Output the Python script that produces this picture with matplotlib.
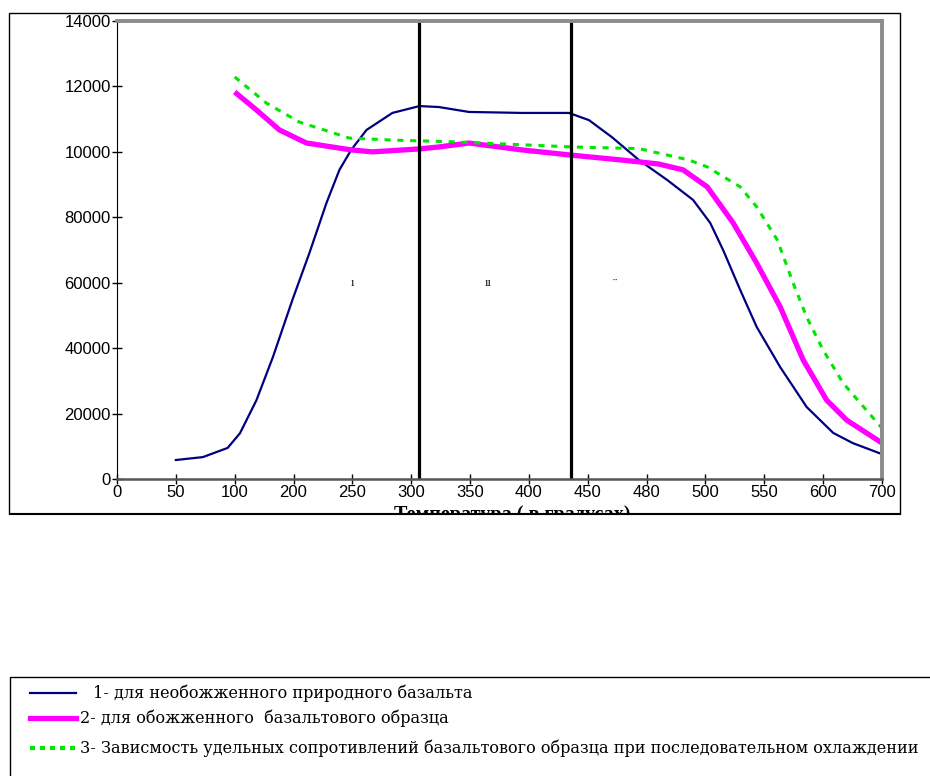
import numpy as np
import matplotlib.pyplot as plt
from matplotlib.patches import Rectangle
from matplotlib.lines import Line2D

# categorical temperature axis (evenly spaced categories)
temp_labels = ['0', '50', '100', '200', '250', '300', '350', '400', '450', '480', '500', '550', '600', '700']
y_ticks = [0, 20000, 40000, 60000, 80000, 100000, 120000, 140000]
y_labels = ['0', '20000', '40000', '60000', '80000', '10000', '12000', '14000']

# curve 1 - unfired natural basalt (category position, value)
pos1 = [1.0, 1.46, 1.88, 2.09, 2.37, 2.65, 2.98, 3.27, 3.56, 3.78, 3.98, 4.24, 4.68, 5.14, 5.47, 5.98,
        6.88, 7.68, 8.02, 8.41, 8.87, 9.35, 9.79, 10.08, 10.3, 10.59, 10.87, 11.27, 11.72, 12.17, 12.5, 13.0]
val1 = [5800, 6700, 9500, 14000, 24100, 37300, 54700, 69100, 84400, 94500, 100600, 106700, 111900, 114000,
        113700, 112200, 111900, 111900, 109700, 104500, 97500, 91400, 85300, 78300, 70000, 57800, 46500,
        34200, 22000, 14100, 11000, 7600]

# curve 2 - fired basalt sample
pos2 = [2.0, 2.37, 2.76, 3.22, 3.98, 4.34, 5.14, 5.47, 5.98, 6.88, 7.72, 8.58, 9.2, 9.62, 10.03, 10.47,
        10.87, 11.27, 11.66, 12.06, 12.4, 13.0]
val2 = [118300, 112800, 106700, 102700, 100600, 100000, 100900, 101500, 102700, 100600, 99000, 97500,
        96300, 94500, 89300, 78300, 66000, 52600, 36400, 24100, 18000, 11000]

# curve 3 - successive cooling
pos3 = [2.0, 2.54, 3.1, 3.95, 4.68, 5.47, 5.81, 7.74, 8.87, 9.72, 10.03, 10.59, 10.87, 11.22, 11.49,
        11.72, 12.0, 12.34, 13.0]
val3 = [122900, 114900, 109100, 104200, 103600, 103200, 103000, 101500, 101000, 97500, 95400, 89300,
        83200, 73100, 59900, 49500, 39400, 29300, 15500]

borders = [5.125, 7.72]

legend_texts = ['1- для необожженного природного базальта',
                '2- для обожженного  базальтового образца',
                '3- Зависмость удельных сопротивлений базальтового образца при последовательном охлаждении']

fig = plt.figure(figsize=(9.3, 7.76), dpi=100)
W, H = 930, 776

# outer chart box
fig.patches.append(Rectangle((9 / W, 1 - 514 / H), 891 / W, 501 / H, transform=fig.transFigure,
                             fill=False, ec='black', lw=1.0, zorder=0))

ax = fig.add_axes([117 / W, 1 - 479 / H, 765 / W, 458 / H])
ax.plot(pos1, val1, color='#000080', lw=1.6)
ax.plot(pos2, val2, color='#ff00ff', lw=3.8, solid_capstyle='butt', solid_joinstyle='round')
ax.plot(pos3, val3, color='#00e600', lw=2.2, ls=(0, (2, 2.2)))
for b in borders:
    ax.axvline(b, color='black', lw=2.3)

ax.text(4, 60000, 'ı', ha='center', va='center', fontsize=9, family='Liberation Serif')
ax.text(6.3, 60000, 'ıı', ha='center', va='center', fontsize=9, family='Liberation Serif')
ax.text(8.45, 59800, '¨', ha='center', va='center', fontsize=9, family='Liberation Serif')

ax.set_xlim(0, 13)
ax.set_ylim(0, 140000)
ax.set_xticks(range(len(temp_labels)))
ax.set_xticklabels(temp_labels, family='Liberation Sans', fontsize=12)
ax.set_yticks(y_ticks)
ax.set_yticklabels(y_labels, family='Liberation Sans', fontsize=12)
ax.tick_params(axis='both', direction='inout', length=7, width=1, pad=1)
ax.spines['left'].set_color('black')
ax.spines['bottom'].set_color('#555555')
ax.spines['bottom'].set_linewidth(1.8)
for s in ['top', 'right']:
    ax.spines[s].set_color('#8c8c8c')
    ax.spines[s].set_linewidth(2.8)

fig.text(512 / W, 1 - 515 / H, 'Температура ( в градусах)', ha='center', va='center',
         family='Liberation Serif', fontweight='bold', fontsize=14.5)
# clip the axis title like the source image
fig.patches.append(Rectangle((0, 1 - 540 / H), 1, 25 / H, transform=fig.transFigure,
                             fc='white', ec='none', zorder=5))
fig.patches.append(Rectangle((9 / W, 1 - 514 / H), 891 / W, 0.001, transform=fig.transFigure,
                             fc='black', ec='black', lw=0.8, zorder=6))

# legend block
fig.patches.append(Rectangle((10 / W, -0.01), 0.99, (776 - 677) / H + 0.01, transform=fig.transFigure,
                             fill=False, ec='black', lw=1.0))
leg_y = [693, 718, 748]
leg_x0 = [93, 80, 80]
styles = [dict(color='#000080', lw=1.6), dict(color='#ff00ff', lw=3.8),
          dict(color='#00e600', lw=3, ls=(0, (1.2, 1.2)))]
for yy, xx, st, txt in zip(leg_y, leg_x0, styles, legend_texts):
    fig.lines.append(Line2D([30 / W, 76 / W], [1 - yy / H] * 2, transform=fig.transFigure, **st))
    fig.text(xx / W, 1 - yy / H, txt, va='center', ha='left', family='DejaVu Serif', fontsize=11.6)

fig.savefig('out.png', dpi=100)
